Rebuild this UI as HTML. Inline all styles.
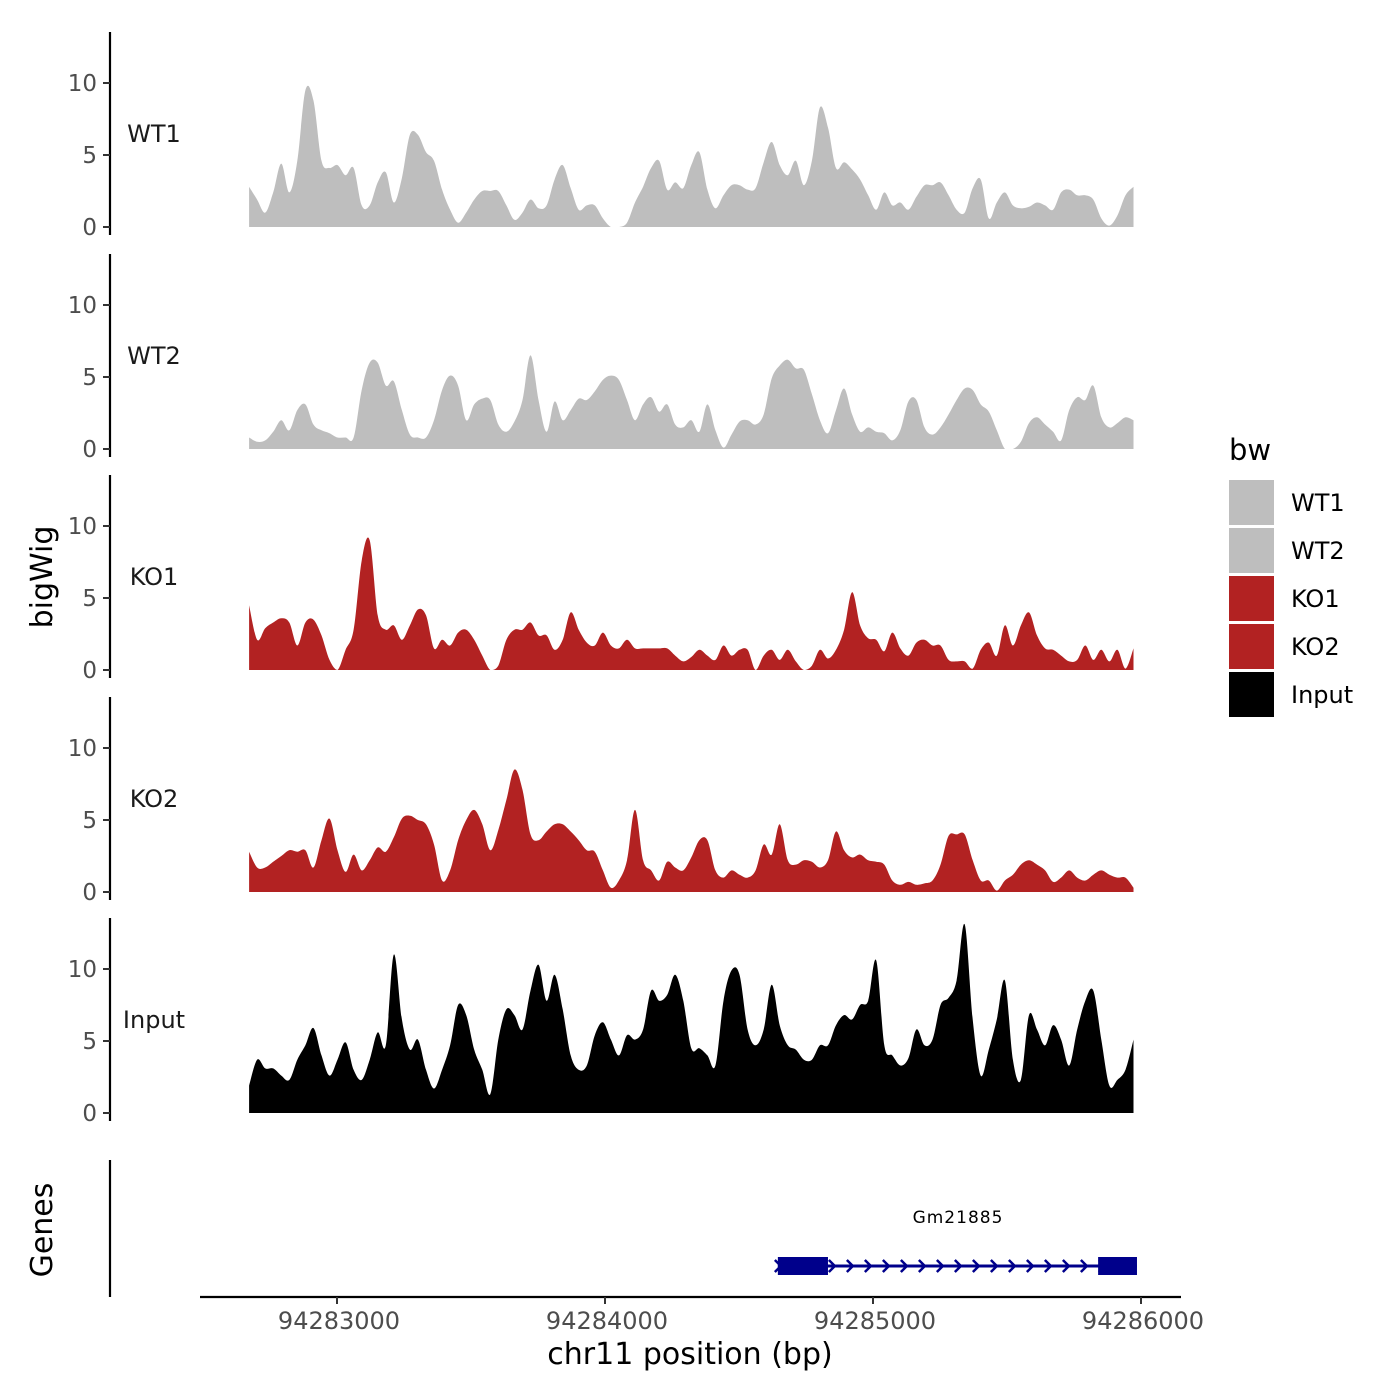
<!DOCTYPE html>
<html><head><meta charset="utf-8"><style>
body{margin:0;background:#fff;}
svg{display:block;font-family:"DejaVu Sans","Liberation Sans",sans-serif;}
</style></head><body>
<svg id="chart" width="1400" height="1400" viewBox="0 0 1400 1400"></svg>
<script>
const trackNames = ["WT1","WT2","KO1","KO2","Input"];
const trackColors = ["#bebebe","#bebebe","#b22222","#b22222","#000000"];
const startBp = 94282672;
const stepBp = 30;
const wt1 = [2.8,1.9,1.0,2.4,4.4,2.4,4.6,9.5,8.8,4.6,4.1,4.3,3.6,4.1,1.5,1.5,3.1,3.8,1.7,3.4,6.4,6.4,5.2,4.6,2.6,1.2,0.3,1.0,1.9,2.5,2.5,2.5,1.5,0.5,1.0,1.9,1.3,1.5,3.3,4.3,2.7,1.2,1.5,1.5,0.6,0,0,0.3,1.7,2.8,4.1,4.6,2.6,3.1,2.7,4.3,5.2,2.6,1.3,2.2,2.9,2.9,2.6,2.7,4.5,5.9,4.3,3.6,4.6,2.9,4.6,8.3,6.9,4.1,4.5,4.0,3.3,2.2,1.2,2.4,1.5,1.7,1.2,2.1,2.9,2.9,3.1,2.2,1.2,1.0,2.7,3.3,0.6,1.7,2.4,1.5,1.3,1.4,1.7,1.5,1.2,2.4,2.6,2.2,2.2,1.9,0.6,0.1,0.8,2.2,2.8];
const wt2 = [0.8,0.5,0.6,1.2,2.0,1.3,2.7,3.1,1.7,1.3,1.1,0.8,0.8,0.8,4.1,6.0,6.0,4.4,4.7,2.7,1.0,0.8,0.8,2.0,4.1,5.1,4.4,2.0,3.1,3.5,3.4,1.7,1.2,1.9,3.4,6.5,3.4,1.2,3.3,2.0,2.7,3.5,3.4,4.0,4.8,5.1,4.8,3.4,2.0,3.1,3.6,2.6,3.1,1.7,1.5,2.0,1.2,3.1,1.3,0.1,1.0,1.9,2.0,1.7,2.4,4.9,5.8,6.2,5.6,5.5,3.8,2.0,1.1,2.7,4.2,2.4,1.2,1.5,1.2,1.1,0.6,1.3,3.3,3.4,1.5,1.0,1.5,2.4,3.4,4.2,4.1,3.1,2.6,1.3,0,0,0.5,1.8,2.2,1.7,1.2,0.6,2.7,3.6,3.4,4.4,2.2,1.5,1.8,2.2,2.0];
const ko1 = [4.5,2.1,2.9,3.3,3.6,3.3,1.7,3.3,3.5,2.4,0.7,0,1.4,2.8,7.6,9.0,3.8,2.8,3.1,2.1,3.1,4.2,3.8,1.5,2.1,1.7,2.6,2.8,2.1,1.0,0,0.3,2.1,2.8,2.8,3.3,2.4,2.4,1.4,2.1,4.0,2.8,1.9,1.7,2.6,1.7,1.5,2.1,1.5,1.5,1.5,1.5,1.5,1.0,0.6,0.9,1.4,1.0,0.7,1.7,1.0,1.4,1.4,0,1.0,1.4,0.7,1.4,0.6,0,0.3,1.4,0.8,1.4,2.8,5.4,3.1,2.2,2.1,1.3,2.6,1.5,1.0,1.9,2.1,1.7,1.7,0.7,0.6,0.6,0.1,1.4,1.9,1.0,3.1,1.7,3.1,4.0,2.4,1.5,1.4,1.0,0.6,0.7,1.7,0.7,1.4,0.6,1.4,0.1,1.5];
const ko2 = [2.8,1.7,1.7,2.1,2.5,2.9,2.8,2.9,1.7,3.6,5.1,2.9,1.4,2.6,1.5,2.2,3.1,2.8,3.8,5.1,5.3,5.0,4.7,3.3,0.8,1.5,3.6,5.0,5.7,4.7,2.9,4.3,6.4,8.5,7.1,4.0,3.6,4.2,4.7,4.7,4.2,3.6,2.9,2.8,1.5,0.3,0.8,2.2,5.7,2.2,1.5,0.8,2.1,1.7,1.5,2.4,3.6,3.6,1.5,1.0,1.5,1.2,1.0,1.5,3.3,2.6,4.7,2.2,1.9,2.2,2.1,1.7,2.2,4.2,2.9,2.4,2.6,2.2,2.1,1.9,0.8,0.5,0.7,0.5,0.6,0.8,1.9,3.9,4.0,4.0,2.2,0.8,0.8,0.1,0.8,1.2,1.9,2.2,1.9,1.5,0.7,1.0,1.5,1.0,0.8,1.2,1.5,1.2,1.0,1.0,0.3];
const inputVals = [1.9,3.7,3.1,3.1,2.6,2.3,3.7,4.7,5.9,4.0,2.6,3.7,4.9,3.0,2.3,3.7,5.6,4.7,11.0,6.5,4.4,5.1,3.0,1.7,3.0,4.7,7.5,6.8,4.4,3.0,1.3,5.1,7.2,6.8,5.8,8.5,10.3,7.8,9.6,7.2,4.0,3.0,3.3,5.4,6.3,5.1,4.0,5.4,5.1,5.8,8.5,7.8,8.2,9.6,7.8,4.5,4.5,4.0,3.3,7.8,9.9,9.6,5.8,4.7,5.8,8.9,6.1,4.7,4.4,3.7,3.7,4.7,4.7,6.1,6.8,6.5,7.5,7.8,10.6,4.7,4.0,3.3,3.8,5.8,4.7,5.1,7.5,8.0,9.2,13.1,6.5,2.6,4.4,6.5,9.2,3.7,2.3,6.8,5.8,4.7,6.1,5.1,3.3,5.8,7.8,8.5,5.1,1.9,2.3,3.0,5.1];
const trackValues = [wt1, wt2, ko1, ko2, inputVals];
const yTicks = [0,5,10];
const xTicks = [94283000,94284000,94285000,94286000];
const geneName = "Gm21885";
const geneStart = 94284645, geneEnd = 94285985;
const exonStarts = [94284645, 94285840];
const exonEnds = [94284832, 94285985];

const NS = "http://www.w3.org/2000/svg";
const svg = document.getElementById('chart');
function mk(tag, attrs, parent, text){
  const e = document.createElementNS(NS, tag);
  for (const k in attrs) e.setAttribute(k, attrs[k]);
  if (text !== undefined) e.textContent = text;
  (parent||svg).appendChild(e); return e;
}
const xScale = bp => 337 + (bp - 94283000) * 0.268;
const baselines = [227, 449, 670, 892, 1113];
const yUnit = 14.4;

trackNames.forEach((name, t) => {
  const base = baselines[t];
  const g = mk('g', {});
  
  
  const vals = trackValues[t];
  const pts = vals.map((v, i) => [xScale(startBp + i * stepBp), base - v * yUnit]);
  const n = pts.length;
  let d = 'M' + pts[0][0].toFixed(1) + ',' + base + ' L' + pts[0][0].toFixed(1) + ',' + pts[0][1].toFixed(1);
  for (let i = 0; i < n - 1; i++) {
    const p0 = pts[Math.max(0, i-1)], p1 = pts[i], p2 = pts[i+1], p3 = pts[Math.min(n-1, i+2)];
    const c1x = p1[0] + (p2[0] - p0[0]) / 6, c1y = Math.min(base, p1[1] + (p2[1] - p0[1]) / 6);
    const c2x = p2[0] - (p3[0] - p1[0]) / 6, c2y = Math.min(base, p2[1] - (p3[1] - p1[1]) / 6);
    d += ' C' + c1x.toFixed(1) + ',' + c1y.toFixed(1) + ' ' + c2x.toFixed(1) + ',' + c2y.toFixed(1) + ' ' + p2[0].toFixed(1) + ',' + p2[1].toFixed(1);
  }
  d += ' L' + pts[n-1][0].toFixed(1) + ',' + base + ' Z';
  const p = mk('path', {d: d, fill: trackColors[t]}, g);
  
  
  const ax = mk('line', {x1: 110, x2: 110, y1: base - 195, y2: base + 8, stroke: '#000', 'stroke-width': 2.2}, g);
  
  
  yTicks.forEach(tv => {
    const y = base - tv * yUnit;
    mk('line', {x1: 103, x2: 110, y1: y, y2: y, stroke: '#333', 'stroke-width': 2}, g);
    const tl = mk('text', {x: 97, y: y + 8, 'text-anchor': 'end', 'font-size': 23, fill: '#4d4d4d'}, g, String(tv));
    
    
  });
  const lab = mk('text', {x: 154, y: base - 85, 'text-anchor': 'middle', 'font-size': 24, fill: '#1a1a1a'}, g, name);
  
  
});

// Genes panel
const gg = mk('g', {});


mk('line', {x1: 110, x2: 110, y1: 1160, y2: 1297, stroke: '#000', 'stroke-width': 2.2}, gg);
const gy = 1266;
mk('line', {x1: xScale(geneStart), x2: xScale(geneEnd), y1: gy, y2: gy, stroke: '#00008b', 'stroke-width': 3}, gg);
for (let x = xScale(geneStart); x <= xScale(geneEnd); x += 18) {
  mk('polyline', {points: (x - 3) + ',' + (gy - 6) + ' ' + (x + 3) + ',' + gy + ' ' + (x - 3) + ',' + (gy + 6), fill: 'none', stroke: '#00008b', 'stroke-width': 2.5}, gg);
}
exonStarts.forEach((s, i) => {
  const r = mk('rect', {x: xScale(s), y: gy - 9, width: xScale(exonEnds[i]) - xScale(s), height: 18, fill: '#00008b'}, gg);
  
  
});
const gl = mk('text', {x: 958, y: 1223, 'text-anchor': 'middle', 'font-size': 17, 'letter-spacing': 1, fill: '#000'}, gg, geneName);



// X axis
const xa = mk('g', {});


mk('line', {x1: 200, x2: 1181, y1: 1297, y2: 1297, stroke: '#000', 'stroke-width': 2.2}, xa);
xTicks.forEach(b => {
  const x = xScale(b);
  mk('line', {x1: x, x2: x, y1: 1297, y2: 1304, stroke: '#333', 'stroke-width': 2}, xa);
  const tl = mk('text', {x: x + 2, y: 1329, 'text-anchor': 'middle', 'font-size': 24, fill: '#4d4d4d'}, xa, String(b));
  
  
});
const xt = mk('text', {x: 690, y: 1364, 'text-anchor': 'middle', 'font-size': 30, fill: '#000'}, xa, 'chr11 position (bp)');



const yt = mk('text', {x: 0, y: 0, transform: 'translate(52,577) rotate(-90)', 'text-anchor': 'middle', 'font-size': 30, fill: '#000'}, svg, 'bigWig');


const gt = mk('text', {x: 0, y: 0, transform: 'translate(52,1230) rotate(-90)', 'text-anchor': 'middle', 'font-size': 30, fill: '#000'}, svg, 'Genes');



// Legend
const lg = mk('g', {});


const ltitle = mk('text', {x: 1229, y: 460, 'font-size': 29, fill: '#000'}, lg, 'bw');


trackNames.forEach((name, i) => {
  const y = 480 + i * 48;
  const e = mk('g', {}, lg);
  
  
  mk('rect', {x: 1229, y: y, width: 45, height: 45, fill: trackColors[i]}, e);
  mk('text', {x: 1291, y: y + 31, 'font-size': 24, fill: '#000'}, e, name);
});
</script>
</body></html>
